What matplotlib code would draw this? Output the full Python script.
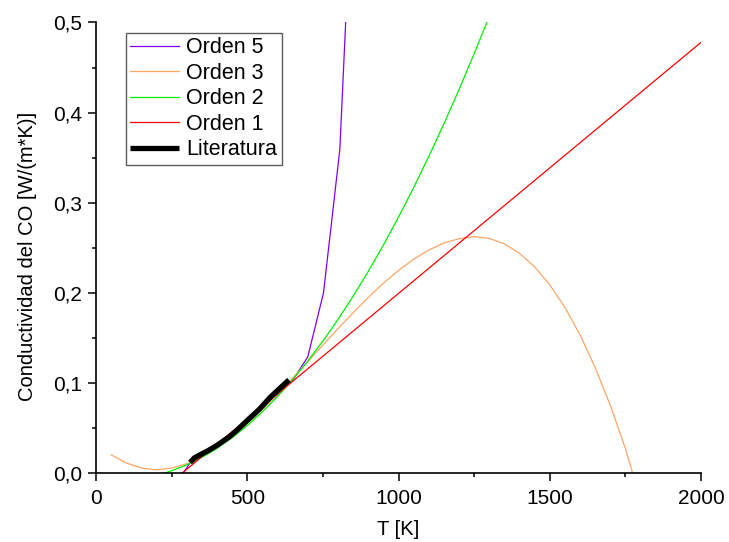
import numpy as np
import matplotlib
matplotlib.use("Agg")
import matplotlib.pyplot as plt
from matplotlib.ticker import MultipleLocator, FuncFormatter

plt.rcParams['font.family'] = ['Liberation Sans', 'DejaVu Sans']

# Orden 5 (purple)
t5 = [288, 300, 311, 350, 400, 450, 500, 550, 600, 650, 700, 752, 806, 850]
k5 = [0.0, 0.006, 0.012, 0.021, 0.030, 0.041, 0.056, 0.072, 0.087, 0.103, 0.129, 0.200, 0.359, 0.68]

# Orden 3 (orange)
t3 = [50, 100, 150, 200, 250, 300, 350, 400, 450, 500, 550, 600, 650, 700, 750,
      800, 850, 900, 950, 1000, 1050, 1100, 1150, 1200, 1250, 1300, 1350, 1400,
      1450, 1500, 1550, 1600, 1650, 1700, 1750, 1774]
k3 = [0.0205, 0.0114, 0.0058, 0.0038, 0.0057, 0.0105, 0.0182, 0.0285, 0.0409,
      0.0551, 0.0708, 0.0877, 0.1055, 0.1237, 0.1422, 0.1604, 0.1781, 0.1951,
      0.2108, 0.2250, 0.2374, 0.2476, 0.2554, 0.2602, 0.2625, 0.2605, 0.2545,
      0.2440, 0.2290, 0.2090, 0.1840, 0.1535, 0.1175, 0.0755, 0.0275, 0.0]

# Orden 2 (green)
t2 = [225, 250, 300, 350, 400, 450, 500, 550, 600, 650, 700, 750, 800, 850,
      900, 950, 1000, 1050, 1100, 1150, 1200, 1250, 1292]
k2 = [0.0, 0.0028, 0.0093, 0.0176, 0.0276, 0.0394, 0.0529, 0.0681, 0.0851,
      0.1039, 0.1244, 0.1466, 0.1706, 0.1964, 0.2239, 0.2531, 0.2841, 0.3168,
      0.3513, 0.3876, 0.4255, 0.4653, 0.5]

# Orden 1 (red)
t1 = [284, 2000]
k1 = [0.0, 0.478]

# Literatura (black)
tl = [311, 325, 344, 370, 400, 443, 470, 498, 540, 575, 610, 638]
kl = [0.012, 0.017, 0.0205, 0.025, 0.031, 0.041, 0.049, 0.058, 0.071, 0.084, 0.095, 0.1036]

fig = plt.figure(figsize=(7.29, 5.42), dpi=100)
ax = fig.add_axes([0.1317, 0.1268, 0.8299, 0.8317])

ax.plot(t5, k5, color='#8000FF', lw=0.9, label='Orden 5')
ax.plot(t3, k3, color='#FFA566', lw=0.9, label='Orden 3')
ax.plot(t2, k2, color='#00F000', lw=0.9, label='Orden 2')
ax.plot(t1, k1, color='#FF0000', lw=0.9, label='Orden 1')
ax.plot(tl, kl, color='black', lw=3.8, label='Literatura', solid_capstyle='butt')

ax.set_xlim(0, 2000)
ax.set_ylim(0, 0.5)
ax.xaxis.set_major_locator(MultipleLocator(500))
ax.xaxis.set_minor_locator(MultipleLocator(250))
ax.yaxis.set_major_locator(MultipleLocator(0.1))
ax.yaxis.set_minor_locator(MultipleLocator(0.05))
ax.yaxis.set_major_formatter(FuncFormatter(lambda v, p: f"{v:.1f}".replace('.', ',')))

for s in ['top', 'right']:
    ax.spines[s].set_visible(False)
for s in ['left', 'bottom']:
    ax.spines[s].set_linewidth(1.2)

ax.tick_params(which='major', direction='out', length=6, width=1.1, labelsize=15, pad=4)
ax.tick_params(which='minor', direction='out', length=3, width=1.1)
ax.tick_params(axis='x', which='major', pad=5)

ax.set_xlabel('T [K]', fontsize=14.5, labelpad=9)
ax.set_ylabel('Conductividad del CO [W/(m*K)]', fontsize=14.5)
ax.yaxis.set_label_coords(-0.098, 0.482)

leg = ax.legend(loc='upper left', bbox_to_anchor=(0.049, 0.977), borderaxespad=0,
                fontsize=15.5, frameon=True, fancybox=False, handlelength=2.28,
                handletextpad=0.34, labelspacing=0.21, borderpad=0.2)
leg.get_frame().set_edgecolor('#333333')
leg.get_frame().set_linewidth(1.0)

fig.savefig('out.png', dpi=100)
